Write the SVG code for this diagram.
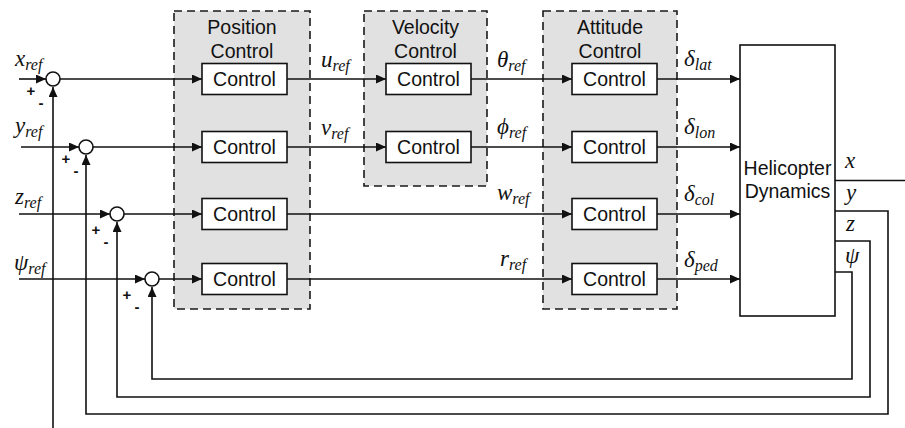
<svg xmlns="http://www.w3.org/2000/svg" width="905" height="428" viewBox="0 0 905 428">
  <style>
    .grp { fill: #e1e1e1; stroke: #1a1a1a; stroke-width: 1.6; stroke-dasharray: 8 5; }
    .blk { fill: #ffffff; stroke: #111111; stroke-width: 1.6; }
    .sum { fill: #ffffff; stroke: #111111; stroke-width: 1.6; }
    .ln { fill: none; stroke: #111111; stroke-width: 1.6; }
    .arr { marker-end: url(#ah); }
    .sans { font-family: "Liberation Sans", Arial, sans-serif; font-size: 19.5px; fill: #111111; }
    .ctr { text-anchor: middle; }
    .math { font-family: "Liberation Serif", "Times New Roman", serif; font-style: italic; font-size: 23px; fill: #111111; }
    .sub { font-size: 16px; }
    .sign { font-family: "Liberation Sans", Arial, sans-serif; font-size: 15px; font-weight: bold; fill: #111111; text-anchor: middle; }
  </style>
  <defs>
    <marker id="ah" markerUnits="userSpaceOnUse" markerWidth="11" markerHeight="10" refX="10" refY="4.5" orient="auto">
      <path d="M0,0 L10,4.5 L0,9 Z" fill="#111111"/>
    </marker>
  </defs>

  <rect width="905" height="428" fill="#ffffff"/>

  <!-- controller groups -->
  <g id="position-control">
    <rect class="grp" x="174" y="11" width="136" height="298"/>
    <text class="sans ctr" x="242" y="34">Position</text>
    <text class="sans ctr" x="242" y="58">Control</text>
  </g>
  <g id="velocity-control">
    <rect class="grp" x="364" y="11" width="123" height="175"/>
    <text class="sans ctr" x="425.5" y="34">Velocity</text>
    <text class="sans ctr" x="425.5" y="58">Control</text>
  </g>
  <g id="attitude-control">
    <rect class="grp" x="543" y="11" width="134" height="298"/>
    <text class="sans ctr" x="610" y="34">Attitude</text>
    <text class="sans ctr" x="610" y="58">Control</text>
  </g>

  <!-- connectors -->
  <g id="connectors">
    <!-- reference inputs into summing junctions -->
    <path class="ln arr" d="M19,79 H46"/>
    <path class="ln arr" d="M21,147 H79"/>
    <path class="ln arr" d="M19,214 H110"/>
    <path class="ln arr" d="M19,279 H145"/>
    <!-- junctions to position controllers -->
    <path class="ln arr" d="M60,79 H202"/>
    <path class="ln arr" d="M93,147 H202"/>
    <path class="ln arr" d="M124,214 H202"/>
    <path class="ln arr" d="M159,279 H202"/>
    <!-- position to velocity / attitude -->
    <path class="ln arr" d="M287,79 H386"/>
    <path class="ln arr" d="M287,147 H386"/>
    <path class="ln arr" d="M287,214 H572"/>
    <path class="ln arr" d="M287,279 H572"/>
    <!-- velocity to attitude -->
    <path class="ln arr" d="M471,79 H572"/>
    <path class="ln arr" d="M471,147 H572"/>
    <!-- attitude to helicopter -->
    <path class="ln arr" d="M657,79 H740"/>
    <path class="ln arr" d="M657,147 H740"/>
    <path class="ln arr" d="M657,214 H740"/>
    <path class="ln arr" d="M657,279 H740"/>
    <!-- outputs and feedback loops -->
    <path class="ln" d="M835,180.5 H905"/>
    <path class="ln arr" d="M53,428 V87"/>
    <path class="ln arr" d="M835,211 H888 V414 H86 V155"/>
    <path class="ln arr" d="M835,241 H870 V397 H117 V222"/>
    <path class="ln arr" d="M835,272 H852 V379 H152 V287"/>
  </g>

  <!-- summing junctions -->
  <g id="sum-x">
    <circle class="sum" cx="53" cy="79" r="7"/>
    <text class="sign" x="31" y="96">+</text>
    <text class="sign" x="41" y="108">-</text>
  </g>
  <g id="sum-y">
    <circle class="sum" cx="86" cy="147" r="7"/>
    <text class="sign" x="66" y="164">+</text>
    <text class="sign" x="76" y="176">-</text>
  </g>
  <g id="sum-z">
    <circle class="sum" cx="117" cy="214" r="7"/>
    <text class="sign" x="96" y="235">+</text>
    <text class="sign" x="106" y="247">-</text>
  </g>
  <g id="sum-psi">
    <circle class="sum" cx="152" cy="279" r="7"/>
    <text class="sign" x="127" y="300">+</text>
    <text class="sign" x="137" y="312">-</text>
  </g>

  <!-- control blocks -->
  <g id="pos-ctrl-1"><rect class="blk" x="202" y="63.5" width="85" height="31"/><text class="sans ctr" x="244.5" y="86">Control</text></g>
  <g id="pos-ctrl-2"><rect class="blk" x="202" y="131.5" width="85" height="31"/><text class="sans ctr" x="244.5" y="154">Control</text></g>
  <g id="pos-ctrl-3"><rect class="blk" x="202" y="198.5" width="85" height="31"/><text class="sans ctr" x="244.5" y="221">Control</text></g>
  <g id="pos-ctrl-4"><rect class="blk" x="202" y="263.5" width="85" height="31"/><text class="sans ctr" x="244.5" y="286">Control</text></g>
  <g id="vel-ctrl-1"><rect class="blk" x="386" y="63.5" width="85" height="31"/><text class="sans ctr" x="428.5" y="86">Control</text></g>
  <g id="vel-ctrl-2"><rect class="blk" x="386" y="131.5" width="85" height="31"/><text class="sans ctr" x="428.5" y="154">Control</text></g>
  <g id="att-ctrl-1"><rect class="blk" x="572" y="63.5" width="85" height="31"/><text class="sans ctr" x="614.5" y="86">Control</text></g>
  <g id="att-ctrl-2"><rect class="blk" x="572" y="131.5" width="85" height="31"/><text class="sans ctr" x="614.5" y="154">Control</text></g>
  <g id="att-ctrl-3"><rect class="blk" x="572" y="198.5" width="85" height="31"/><text class="sans ctr" x="614.5" y="221">Control</text></g>
  <g id="att-ctrl-4"><rect class="blk" x="572" y="263.5" width="85" height="31"/><text class="sans ctr" x="614.5" y="286">Control</text></g>

  <!-- plant -->
  <g id="helicopter">
    <rect class="blk" x="740" y="45" width="95" height="271"/>
    <text class="sans ctr" x="787.5" y="175">Helicopter</text>
    <text class="sans ctr" x="787.5" y="198">Dynamics</text>
  </g>

  <!-- signal labels -->
  <g id="labels">
    <text class="math" x="15" y="66">x<tspan class="sub" dy="4">ref</tspan></text>
    <text class="math" x="15" y="133">y<tspan class="sub" dy="4">ref</tspan></text>
    <text class="math" x="15" y="204">z<tspan class="sub" dy="4">ref</tspan></text>
    <text class="math" x="14" y="270">ψ<tspan class="sub" dy="4">ref</tspan></text>
    <text class="math" x="321" y="67">u<tspan class="sub" dy="4">ref</tspan></text>
    <text class="math" x="321" y="135">v<tspan class="sub" dy="4">ref</tspan></text>
    <text class="math" x="497" y="67">θ<tspan class="sub" dy="4">ref</tspan></text>
    <text class="math" x="497" y="134">ϕ<tspan class="sub" dy="4">ref</tspan></text>
    <text class="math" x="497" y="200">w<tspan class="sub" dy="4">ref</tspan></text>
    <text class="math" x="500" y="266">r<tspan class="sub" dy="4">ref</tspan></text>
    <text class="math" x="684" y="66">δ<tspan class="sub" dy="4">lat</tspan></text>
    <text class="math" x="684" y="134">δ<tspan class="sub" dy="4">lon</tspan></text>
    <text class="math" x="684" y="201">δ<tspan class="sub" dy="4">col</tspan></text>
    <text class="math" x="684" y="267">δ<tspan class="sub" dy="4">ped</tspan></text>
    <text class="math" x="845" y="168">x</text>
    <text class="math" x="846" y="200">y</text>
    <text class="math" x="846" y="231">z</text>
    <text class="math" x="845" y="263">ψ</text>
  </g>
</svg>
